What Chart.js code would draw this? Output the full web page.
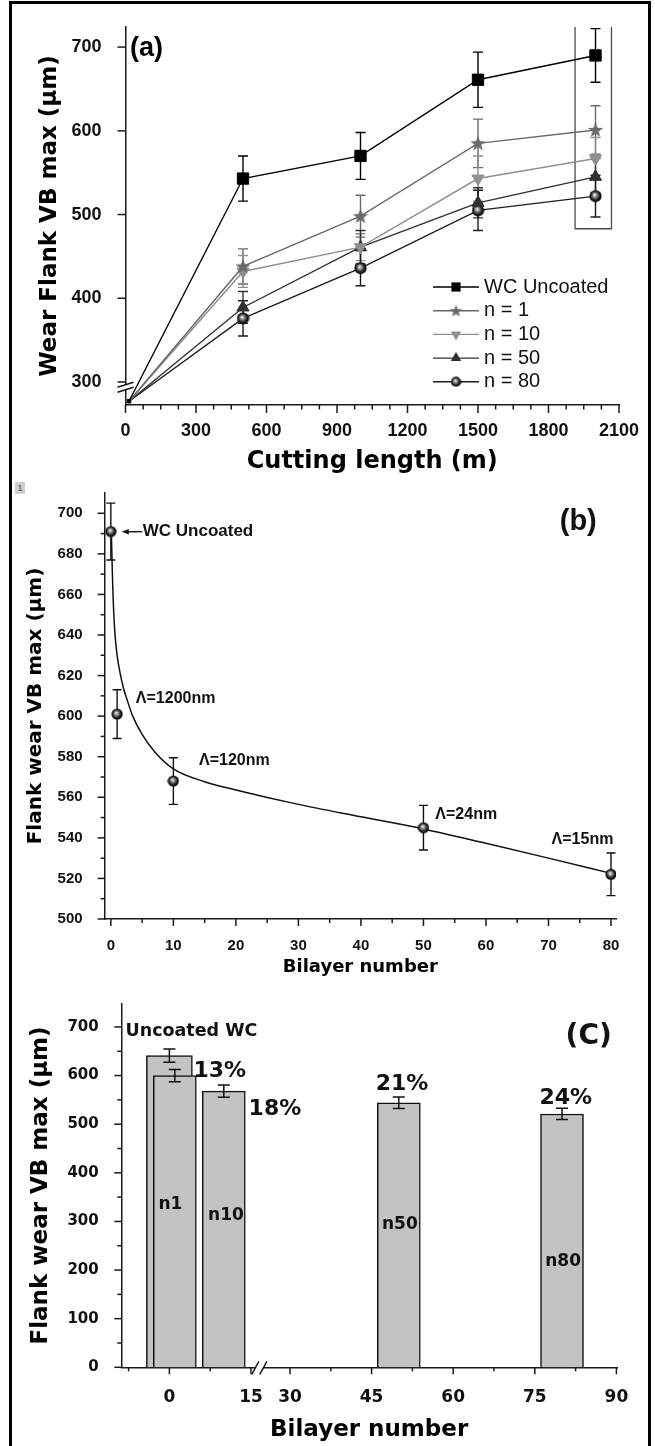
<!DOCTYPE html>
<html><head><meta charset="utf-8">
<script src="https://cdn.jsdelivr.net/npm/chart.js@4.4.1/dist/chart.umd.min.js"></script>
<style>
html,body{margin:0;padding:0;background:#fff}
body{width:655px;height:1446px;position:relative;overflow:hidden}
canvas{position:absolute;left:0}
#frame{position:absolute;left:9px;top:1px;width:642px;height:1470px;border:3px solid #000;box-sizing:border-box;pointer-events:none}
#tag{position:absolute;left:15px;top:482px;width:10px;height:12px;background:#cfcfcf;font:9px 'Liberation Sans',sans-serif;color:#444;line-height:12px;text-align:center}
</style></head><body>
<canvas id="ca" width="655" height="480" style="top:0"></canvas>
<canvas id="cb" width="655" height="510" style="top:470px"></canvas>
<canvas id="cc" width="655" height="466" style="top:980px"></canvas>
<div id="tag">1</div>
<div id="frame"></div>
<script>
// ---------- Panel (a) data ----------
const cuttingLength = [15, 500, 1000, 1500, 2000];
const seriesLabelsA = ['WC Uncoated', 'n = 1', 'n = 10', 'n = 50', 'n = 80'];
const wcUncoated    = [277, 543, 570, 661, 690];
const wcUncoatedErr = [0, 27, 28, 33, 32];
const n1Wear        = [277, 438, 498, 585, 601];
const n1Err         = [0, 21, 25, 29, 29];
const n10Wear       = [277, 432, 461, 543, 567];
const n10Err        = [0, 19, 16, 27, 25];
const n50Wear       = [277, 389, 461, 514, 545];
const n50Err        = [0, 19, 20, 18, 22];
const n80Wear       = [277, 376, 436, 505, 522];
const n80Err        = [0, 21, 21, 24, 25];
const aXTicks = [0, 300, 600, 900, 1200, 1500, 1800, 2100];
const aXMinor = [75,150,225,375,450,525,675,750,825,975,1050,1125,1275,1350,1425,1575,1650,1725,1875,1950,2025];
const aYTicks = [300, 400, 500, 600, 700];
const boxX = [1913, 1913, 2068, 2068];
const boxY = [724, 483, 483, 724];
const aBreakY = 295;
const aNoteText = ['(a)'];
const aNoteX = [19];
const aNoteY = [698];

// ---------- Panel (b) data ----------
const bilayerB   = [0, 1, 10, 50, 80];
const flankWearB = [691, 601, 568, 545, 522];
const flankErrB  = [14, 12, 11.5, 11, 10.5];
const fitX = [0.1, 0.3, 0.6, 1, 1.5, 2, 2.5, 3.5, 5, 7, 10, 15, 20, 30, 40, 50, 60, 70, 80];
const fitY = [688, 664, 643, 630, 621, 614, 609, 600, 591, 582.5, 574, 567.7, 563.6, 556.5, 550.4, 544.4, 537.3, 530, 522.5];
const bXTicks = [0, 10, 20, 30, 40, 50, 60, 70, 80];
const bXMinor = [5, 15, 25, 35, 45, 55, 65, 75];
const bYTicks = [500, 520, 540, 560, 580, 600, 620, 640, 660, 680, 700];
const bYMinor = [510, 530, 550, 570, 590, 610, 630, 650, 670, 690];
const bNoteText = ['WC Uncoated', 'Λ=1200nm', 'Λ=120nm', 'Λ=24nm', 'Λ=15nm', '(b)'];
const bNoteX = [5.1, 4.0, 14.1, 51.9, 70.5, 71.8];
const bNoteY = [690.9, 608.8, 577.9, 551.3, 539.3, 695.9];
const bArrowX = [5.0, 1.75];
const bArrowY = [690.9, 690.9];

// ---------- Panel (c) data ----------
const bilayerC    = [1, 10, 50, 80];
const flankWearC  = [600, 568, 544, 521];
const flankErrC   = [12.7, 12.7, 11.7, 11.6];
const uncoatedXC  = [0];
const uncoatedC   = [641];
const uncoatedErrC = [13.5];
const cXTicks = [0, 15, 30, 45, 60, 75, 90];
const cXMinor = [-7.5, 7.5, 37.5, 52.5, 67.5, 82.5];
const cYTicks = [0, 100, 200, 300, 400, 500, 600, 700];
const cYMinor = [50, 150, 250, 350, 450, 550, 650];
const cNoteText = ['Uncoated WC', '13%', '18%', '21%', '24%', '(C)', 'n1', 'n10', 'n50', 'n80'];
const cNoteX = [-8.07, 9.25, 24.2, 50.6, 80.7, 84.9, 0.2, 10.4, 50.2, 80.2];
const cNoteY = [690, 608.3, 530, 582.8, 552.7, 680.5, 335.5, 311.5, 293.5, 216.6];
const cBreakX = 18.4;
const C_BREAK_LO = 15, C_BREAK_HI = 30, C_GAP = 7.17;

// ---------- common ----------
const AR = "'Liberation Sans', Arial, sans-serif";
const DJ = "'DejaVu Sans', sans-serif";
Chart.defaults.animation = false;
Chart.defaults.font.family = AR;
Chart.defaults.color = '#111';
Chart.defaults.events = [];
Chart.defaults.plugins.legend.display = false;
Chart.defaults.plugins.tooltip.enabled = false;

class BrokenLinearScale extends Chart.LinearScale {
  toDisplay(v) {
    if (v <= C_BREAK_LO) return v;
    if (v >= C_BREAK_HI) return v - (C_BREAK_HI - C_BREAK_LO) + C_GAP;
    return C_BREAK_LO + (v - C_BREAK_LO) * C_GAP / (C_BREAK_HI - C_BREAK_LO);
  }
  fromDisplay(d) {
    if (d <= C_BREAK_LO) return d;
    if (d >= C_BREAK_LO + C_GAP) return d + (C_BREAK_HI - C_BREAK_LO) - C_GAP;
    return C_BREAK_LO + (d - C_BREAK_LO) * (C_BREAK_HI - C_BREAK_LO) / C_GAP;
  }
  getPixelForValue(v) { return super.getPixelForValue(this.toDisplay(v)); }
  getValueForPixel(p) { return this.fromDisplay(super.getValueForPixel(p)); }
}
BrokenLinearScale.id = 'brokenLinear';
BrokenLinearScale.defaults = Object.assign({}, Chart.LinearScale.defaults);
Chart.register(BrokenLinearScale);

function sphereImg(d) {
  const c = document.createElement('canvas'); c.width = c.height = d;
  const g = c.getContext('2d'); const r = d / 2;
  const gr = g.createRadialGradient(r * 0.85, r * 0.8, 0.3, r, r, r);
  gr.addColorStop(0, '#f2f2f2'); gr.addColorStop(0.3, '#8a8a8a');
  gr.addColorStop(0.7, '#151515'); gr.addColorStop(1, '#000');
  g.fillStyle = gr; g.beginPath(); g.arc(r, r, r - 0.4, 0, Math.PI * 2); g.fill();
  return c;
}
function starImg(d, color) {
  const c = document.createElement('canvas'); c.width = c.height = d;
  const g = c.getContext('2d'); const r = d / 2;
  g.fillStyle = color; g.beginPath();
  for (let i = 0; i < 10; i++) {
    const a = -Math.PI / 2 + i * Math.PI / 5, rr = i % 2 ? r * 0.42 : r;
    g.lineTo(r + rr * Math.cos(a), r + 0.5 + rr * Math.sin(a));
  }
  g.closePath(); g.fill();
  return c;
}

function axis(o) {
  const s = {
    type: o.type || 'linear', min: o.min, max: o.max, bounds: 'data', offset: false,
    grid: { display: false, offset: false },
    border: { display: true, color: '#1a1a1a', width: 1.5 },
    ticks: { autoSkip: false, maxRotation: 0, minRotation: 0, padding: o.pad, font: o.font, color: '#111',
             callback: v => String(v) },
    afterBuildTicks: sc => { sc.ticks = o.ticks.map(v => ({ value: v })); },
    afterFit: sc => { if (o.width != null) sc.width = o.width; if (o.height != null) sc.height = o.height; },
    title: { display: true, text: o.title, font: o.titleFont, color: '#000', padding: o.titlePad }
  };
  if (o.stacked !== undefined) s.stacked = o.stacked;
  return s;
}

function tickMarkPlugin(id, c) {
  return { id, afterDraw(chart) {
    const { ctx, chartArea: ca } = chart; const xs = chart.scales.x, ys = chart.scales.y;
    ctx.save(); ctx.strokeStyle = '#1a1a1a'; ctx.lineWidth = 1.5;
    const seg = (x1, y1, x2, y2) => { ctx.beginPath(); ctx.moveTo(x1, y1); ctx.lineTo(x2, y2); ctx.stroke(); };
    c.xMajor.forEach(v => { const p = xs.getPixelForValue(v); seg(p, ca.bottom, p, ca.bottom + c.len); });
    c.xMinor.forEach(v => { const p = xs.getPixelForValue(v); seg(p, ca.bottom, p, ca.bottom + c.minorLen); });
    c.yMajor.forEach(v => { const p = ys.getPixelForValue(v); seg(ca.left, p, ca.left - c.len, p); });
    c.yMinor.forEach(v => { const p = ys.getPixelForValue(v); seg(ca.left, p, ca.left - c.minorLen, p); });
    ctx.restore();
  }};
}

function errorBarPlugin(id, c) {
  const hook = c.after ? 'afterDatasetsDraw' : 'beforeDatasetsDraw';
  return { id, [hook](chart) {
    const ctx = chart.ctx; const ys = chart.scales.y;
    chart.data.datasets.forEach((ds, i) => {
      if (!ds.errors) return;
      const meta = chart.getDatasetMeta(i);
      ctx.save(); ctx.strokeStyle = c.color || ds.borderColor; ctx.lineWidth = c.width;
      meta.data.forEach((el, j) => {
        const e = ds.errors[j]; if (!e) return;
        const v = ds.data[j].y; const x = el.x;
        const t = ys.getPixelForValue(v + e), b = ys.getPixelForValue(v - e);
        ctx.beginPath(); ctx.moveTo(x, t); ctx.lineTo(x, b);
        ctx.moveTo(x - c.cap, t); ctx.lineTo(x + c.cap, t);
        ctx.moveTo(x - c.cap, b); ctx.lineTo(x + c.cap, b); ctx.stroke();
      });
      ctx.restore();
    });
  }};
}

function notesPlugin(id, notes) {
  return { id, afterDatasetsDraw(chart) {
    const ctx = chart.ctx; const xs = chart.scales.x, ys = chart.scales.y;
    notes.forEach(n => {
      ctx.save(); ctx.font = n.font; ctx.fillStyle = n.color || '#111';
      ctx.textAlign = n.align || 'left'; ctx.textBaseline = 'middle';
      ctx.fillText(n.text, xs.getPixelForValue(n.x), ys.getPixelForValue(n.y));
      ctx.restore();
    });
  }};
}

// ================= Chart (a) =================
const aSeries = [wcUncoated, n1Wear, n10Wear, n50Wear, n80Wear];
const aErrors = [wcUncoatedErr, n1Err, n10Err, n50Err, n80Err];
const aColors = ['#000000', '#6a6a6a', '#8f8f8f', '#303030', '#1c1c1c'];
const aPointStyles = ['rect', starImg(16, '#6a6a6a'), 'triangle', 'triangle', sphereImg(13)];
const aLegendStyles = ['rect', starImg(13, '#6a6a6a'), 'triangle', 'triangle', sphereImg(11)];
const aRot = [0, 0, 180, 0, 0];
const aRad = [8, 7, 7, 7, 7];
const aLegRad = [6.5, 6, 6, 6, 6];

const dsA = seriesLabelsA.map((label, k) => ({
  label, data: cuttingLength.map((x, i) => ({ x, y: aSeries[k][i] })),
  errors: aErrors[k], legendStyle: aLegendStyles[k], legendRadius: aLegRad[k],
  borderColor: aColors[k], backgroundColor: aColors[k], borderWidth: 1.4,
  pointStyle: aPointStyles[k], pointRotation: aRot[k],
  pointRadius: cuttingLength.map((_, i) => i === 0 ? (k === 0 ? 2.5 : 0) : aRad[k]),
  pointBorderWidth: 1, pointBorderColor: aColors[k], pointBackgroundColor: aColors[k], tension: 0
}));
dsA.push({ label: 'box', inLegend: false, data: boxX.map((x, i) => ({ x, y: boxY[i] })),
  borderColor: '#4a4a4a', borderWidth: 1.3, pointRadius: 0, tension: 0 });

const legendA = { id: 'legendA', afterDatasetsDraw(chart) {
  const ctx = chart.ctx; const x0 = 433, x1 = 479, tx = 484, y0 = 287, dy = 23.7;
  chart.data.datasets.filter(d => d.inLegend !== false).forEach((ds, i) => {
    const y = y0 + i * dy;
    ctx.save(); ctx.strokeStyle = ds.borderColor; ctx.lineWidth = 1.4;
    ctx.beginPath(); ctx.moveTo(x0, y); ctx.lineTo(x1, y); ctx.stroke();
    ctx.fillStyle = ds.backgroundColor;
    Chart.helpers.drawPoint(ctx, { pointStyle: ds.legendStyle, radius: ds.legendRadius, rotation: ds.pointRotation, borderWidth: 0 }, (x0 + x1) / 2, y);
    ctx.fillStyle = '#111'; ctx.font = "20px " + AR; ctx.textBaseline = 'middle'; ctx.textAlign = 'left';
    ctx.fillText(ds.label, tx, y);
    ctx.restore();
  });
}};

const breakA = { id: 'breakA', afterDraw(chart) {
  const { ctx, chartArea: ca } = chart; const p = chart.scales.y.getPixelForValue(aBreakY); const x0 = ca.left;
  ctx.save(); ctx.fillStyle = '#fff';
  ctx.beginPath(); ctx.moveTo(x0 - 8, p + 1); ctx.lineTo(x0 + 8, p - 4); ctx.lineTo(x0 + 8, p + 1); ctx.lineTo(x0 - 8, p + 6); ctx.closePath(); ctx.fill();
  ctx.strokeStyle = '#1a1a1a'; ctx.lineWidth = 1.5;
  ctx.beginPath(); ctx.moveTo(x0 - 8, p + 1); ctx.lineTo(x0 + 8, p - 4);
  ctx.moveTo(x0 - 8, p + 6); ctx.lineTo(x0 + 8, p + 1); ctx.stroke();
  ctx.restore();
}};

new Chart(document.getElementById('ca'), {
  type: 'line',
  data: { datasets: dsA },
  options: {
    responsive: false, animation: false,
    layout: { padding: { left: 0, top: 27, right: 36, bottom: 0 } },
    scales: {
      x: axis({ min: 0, max: 2100, ticks: aXTicks, pad: 7.2, font: { family: AR, size: 18, weight: 'bold' }, height: 75,
        title: 'Cutting length (m)', titleFont: { family: DJ, size: 24, weight: 'bold' }, titlePad: { top: 0, bottom: 3.6 } }),
      y: axis({ min: 272.5, max: 724, ticks: aYTicks, pad: 16, font: { family: AR, size: 18, weight: 'bold' }, width: 125.5,
        title: 'Wear Flank VB max (μm)', titleFont: { family: DJ, size: 23, weight: 'bold' }, titlePad: { top: 36.2, bottom: 0 } })
    }
  },
  plugins: [
    errorBarPlugin('errA', { width: 1.4, cap: 5 }),
    tickMarkPlugin('ticksA', { xMajor: aXTicks, xMinor: aXMinor, yMajor: aYTicks, yMinor: [], len: 8, minorLen: 4.5 }),
    breakA, legendA,
    notesPlugin('notesA', aNoteText.map((t, i) => ({ text: t, x: aNoteX[i], y: aNoteY[i], font: "bold 27px " + AR, color: '#000' })))
  ]
});

// ================= Chart (b) =================
const sphereB = sphereImg(12);
const arrowB = { id: 'arrowB', afterDatasetsDraw(chart) {
  const ctx = chart.ctx; const xs = chart.scales.x, ys = chart.scales.y;
  const x1 = xs.getPixelForValue(bArrowX[0]), y1 = ys.getPixelForValue(bArrowY[0]);
  const x2 = xs.getPixelForValue(bArrowX[1]), y2 = ys.getPixelForValue(bArrowY[1]);
  ctx.save(); ctx.strokeStyle = '#111'; ctx.fillStyle = '#111'; ctx.lineWidth = 1.4;
  ctx.beginPath(); ctx.moveTo(x1, y1); ctx.lineTo(x2 + 4, y2); ctx.stroke();
  ctx.beginPath(); ctx.moveTo(x2, y2); ctx.lineTo(x2 + 7, y2 - 2.8); ctx.lineTo(x2 + 7, y2 + 2.8); ctx.closePath(); ctx.fill();
  ctx.restore();
}};
const bNoteFonts = ["bold 17px " + AR, "bold 16px " + AR, "bold 16px " + AR, "bold 16px " + AR, "bold 16px " + AR, "bold 29px " + AR];

new Chart(document.getElementById('cb'), {
  type: 'line',
  data: { datasets: [
    { label: 'Flank wear', data: bilayerB.map((x, i) => ({ x, y: flankWearB[i] })), errors: flankErrB,
      showLine: false, pointStyle: sphereB, pointRadius: 6, borderColor: '#111', backgroundColor: '#111' },
    { label: 'Fit', data: fitX.map((x, i) => ({ x, y: fitY[i] })), borderColor: '#111', borderWidth: 1.5,
      pointRadius: 0, cubicInterpolationMode: 'monotone', fill: false }
  ]},
  options: {
    responsive: false, animation: false,
    layout: { padding: { left: 0, top: 23, right: 39, bottom: 0 } },
    scales: {
      x: axis({ min: -1, max: 80.8, ticks: bXTicks, pad: 10.3, font: { family: AR, size: 15, weight: 'bold' }, height: 61,
        title: 'Bilayer number', titleFont: { family: DJ, size: 18, weight: 'bold' }, titlePad: { top: 0, bottom: 2.2 } }),
      y: axis({ min: 500, max: 710, ticks: bYTicks, pad: 14, font: { family: AR, size: 15, weight: 'bold' }, width: 104.6,
        title: 'Flank wear VB max (μm)', titleFont: { family: DJ, size: 20, weight: 'bold' }, titlePad: { top: 24, bottom: 0 } })
    }
  },
  plugins: [
    errorBarPlugin('errB', { width: 1.4, cap: 4.5, color: '#111' }),
    tickMarkPlugin('ticksB', { xMajor: bXTicks, xMinor: bXMinor, yMajor: bYTicks, yMinor: bYMinor, len: 7, minorLen: 4 }),
    arrowB,
    notesPlugin('notesB', bNoteText.map((t, i) => ({ text: t, x: bNoteX[i], y: bNoteY[i], font: bNoteFonts[i], color: '#111' })))
  ]
});

// ================= Chart (c) =================
const breakC = { id: 'breakC', afterDraw(chart) {
  const { ctx, chartArea: ca } = chart; const p = chart.scales.x.getPixelForValue(cBreakX); const b = ca.bottom;
  ctx.save(); ctx.fillStyle = '#fff';
  ctx.beginPath(); ctx.moveTo(p - 8, b + 7); ctx.lineTo(p - 1, b - 6); ctx.lineTo(p + 7, b - 6); ctx.lineTo(p, b + 7); ctx.closePath(); ctx.fill();
  ctx.strokeStyle = '#1a1a1a'; ctx.lineWidth = 1.5;
  ctx.beginPath(); ctx.moveTo(p - 8, b + 7); ctx.lineTo(p - 1, b - 6);
  ctx.moveTo(p, b + 7); ctx.lineTo(p + 7, b - 6); ctx.stroke();
  ctx.restore();
}};
const cNoteStyle = [
  { font: "bold 17.5px " + DJ, align: 'left' },
  { font: "bold 22px " + DJ, align: 'center' }, { font: "bold 22px " + DJ, align: 'center' },
  { font: "bold 22px " + DJ, align: 'center' }, { font: "bold 22px " + DJ, align: 'center' },
  { font: "bold 28px " + DJ, align: 'center' },
  { font: "bold 17px " + DJ, align: 'center' }, { font: "bold 17px " + DJ, align: 'center' },
  { font: "bold 17px " + DJ, align: 'center' }, { font: "bold 17px " + DJ, align: 'center' }
];

new Chart(document.getElementById('cc'), {
  type: 'bar',
  data: { datasets: [
    { label: 'Coated', data: bilayerC.map((x, i) => ({ x, y: flankWearC[i] })), errors: flankErrC,
      backgroundColor: '#c3c3c3', borderColor: '#111', borderWidth: 1.5, barThickness: 43, stack: 'one' },
    { label: 'Uncoated WC', data: uncoatedXC.map((x, i) => ({ x, y: uncoatedC[i] })), errors: uncoatedErrC,
      backgroundColor: '#c3c3c3', borderColor: '#111', borderWidth: 1.5, barThickness: 46, stack: 'one' }
  ]},
  options: {
    responsive: false, animation: false,
    layout: { padding: { left: 0, top: 14.3, right: 38, bottom: 0 } },
    scales: {
      x: axis({ type: 'brokenLinear', min: -8.84, max: 82.28, ticks: cXTicks, pad: 12.5, font: { family: DJ, size: 17, weight: 'bold' }, height: 78.7,
        title: 'Bilayer number', titleFont: { family: DJ, size: 23, weight: 'bold' }, titlePad: { top: 0, bottom: 2.2 } }),
      y: axis({ min: 0, max: 748, stacked: false, ticks: cYTicks, pad: 14.6, font: { family: DJ, size: 15, weight: 'bold' }, width: 121.3,
        title: 'Flank wear VB max (μm)', titleFont: { family: DJ, size: 23, weight: 'bold' }, titlePad: { top: 27.7, bottom: 0 } })
    }
  },
  plugins: [
    errorBarPlugin('errC', { after: true, width: 1.5, cap: 6, color: '#111' }),
    tickMarkPlugin('ticksC', { xMajor: cXTicks, xMinor: cXMinor, yMajor: cYTicks, yMinor: cYMinor, len: 7, minorLen: 4 }),
    breakC,
    notesPlugin('notesC', cNoteText.map((t, i) => ({ text: t, x: cNoteX[i], y: cNoteY[i], font: cNoteStyle[i].font, align: cNoteStyle[i].align, color: '#111' })))
  ]
});
</script>
</body></html>
